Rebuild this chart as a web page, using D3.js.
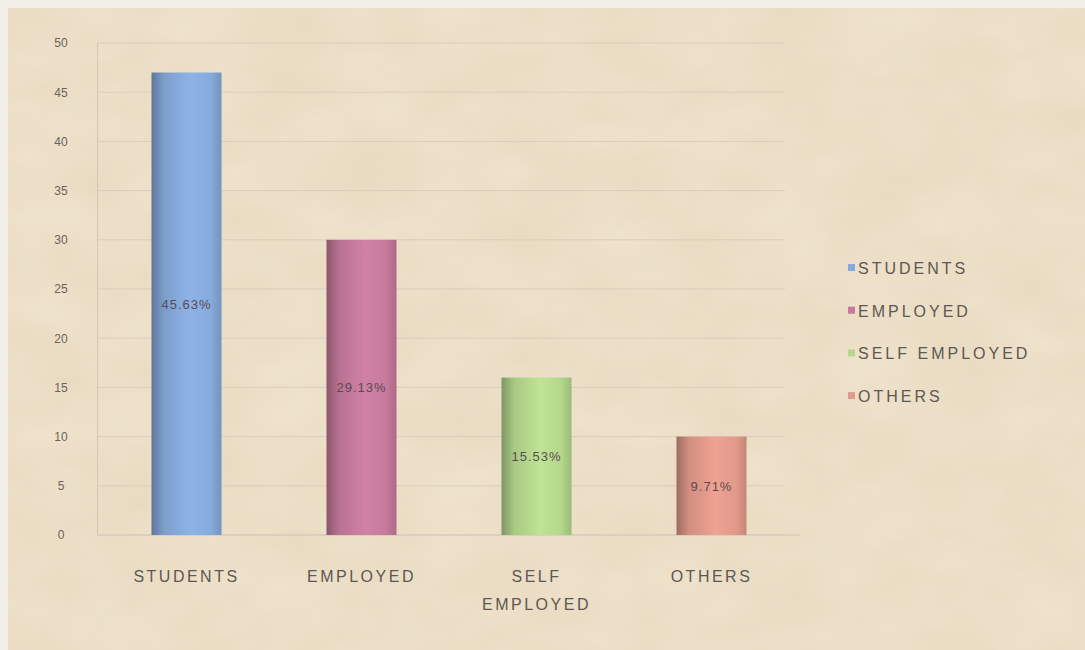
<!DOCTYPE html>
<html>
<head>
<meta charset="utf-8">
<script src="https://cdn.jsdelivr.net/npm/d3@7"></script>
<style>
  html, body { margin: 0; padding: 0; background: #f4f1ee; }
  svg { display: block; }
</style>
</head>
<body>
<svg id="chart" width="1085" height="650"></svg>
<script>
const categories = ["STUDENTS", "EMPLOYED", "SELF EMPLOYED", "OTHERS"];
const axisLabels = [["STUDENTS"], ["EMPLOYED"], ["SELF", "EMPLOYED"], ["OTHERS"]];
const values = [47, 30, 16, 10];
const valueLabels = ["45.63%", "29.13%", "15.53%", "9.71%"];
const yTicks = [0, 5, 10, 15, 20, 25, 30, 35, 40, 45, 50];
const colors = ["#86aadb", "#c77a9c", "#b4d88c", "#e29a8a"];

const svg = d3.select("#chart");
const W = 1085, H = 650;
const FONT = "Liberation Sans, Arial, sans-serif";
const defs = svg.append("defs");

// paper texture
const f = defs.append("filter").attr("id", "paper").attr("x", 0).attr("y", 0).attr("width", "100%").attr("height", "100%");
f.append("feTurbulence").attr("type", "fractalNoise").attr("baseFrequency", "0.012 0.02").attr("numOctaves", 3).attr("seed", 4).attr("result", "n");
f.append("feColorMatrix").attr("in", "n").attr("type", "matrix")
  .attr("values", "0 0 0 0 0.6  0 0 0 0 0.5  0 0 0 0 0.3  0.3 0 0 0 -0.05").attr("result", "c");
f.append("feComposite").attr("in", "c").attr("in2", "SourceGraphic").attr("operator", "atop");

// outer frame
svg.append("rect").attr("x", 0).attr("y", 0).attr("width", W).attr("height", H).attr("fill", "#f3efe9");
svg.append("rect").attr("x", 8).attr("y", 8).attr("width", W - 8).attr("height", H - 8)
  .attr("fill", "#efe2cb").attr("filter", "url(#paper)");

const margin = { left: 97, right: 288, top: 43, bottom: 115 };
const x = d3.scaleBand().domain(categories).range([margin.left, W - margin.right]).paddingInner(0.6).paddingOuter(0.3);
const y = d3.scaleLinear().domain([0, 50]).range([H - margin.bottom, margin.top]);

// gridlines
svg.append("g").selectAll("line").data(yTicks).join("line")
  .attr("x1", margin.left).attr("x2", 785)
  .attr("y1", d => y(d)).attr("y2", d => y(d))
  .attr("stroke", "#d9cdbb").attr("stroke-width", 1);

// y axis
const yAxis = d3.axisLeft(y).tickValues(yTicks).tickSize(0).tickPadding(36);
const gy = svg.append("g").attr("transform", `translate(${margin.left},0)`).call(yAxis);
gy.select(".domain").attr("stroke", "#d3c8b8");
gy.selectAll("text").attr("fill", "#6b6258").attr("font-size", 12).attr("font-family", FONT).attr("text-anchor", "middle");

// x axis line
svg.append("line").attr("x1", margin.left).attr("x2", 800).attr("y1", y(0)).attr("y2", y(0)).attr("stroke", "#d3c8b8");

// bar gradients (cylinder look)
colors.forEach((c, i) => {
  const g = defs.append("linearGradient").attr("id", "g" + i).attr("x1", "0%").attr("x2", "100%");
  const base = d3.color(c);
  g.append("stop").attr("offset", "0%").attr("stop-color", base.darker(1.0));
  g.append("stop").attr("offset", "18%").attr("stop-color", base.darker(0.2));
  g.append("stop").attr("offset", "55%").attr("stop-color", base.brighter(0.15));
  g.append("stop").attr("offset", "85%").attr("stop-color", base);
  g.append("stop").attr("offset", "100%").attr("stop-color", base.darker(0.4));
});

const bw = 70;
svg.append("g").selectAll("rect").data(values).join("rect")
  .attr("x", (d, i) => x(categories[i]) + x.bandwidth() / 2 - bw / 2 + 2)
  .attr("width", bw)
  .attr("y", d => y(d))
  .attr("height", d => y(0) - y(d))
  .attr("fill", (d, i) => `url(#g${i})`);

// value labels
svg.append("g").selectAll("text").data(values).join("text")
  .attr("x", (d, i) => x(categories[i]) + x.bandwidth() / 2 + 2)
  .attr("y", d => (y(d) + y(0)) / 2 + 5)
  .attr("text-anchor", "middle")
  .attr("font-size", 13).attr("font-family", FONT).attr("letter-spacing", 1)
  .attr("fill", "#5a4a55")
  .text((d, i) => valueLabels[i]);

// x labels
const xl = svg.append("g").selectAll("text").data(axisLabels).join("text")
  .attr("x", (d, i) => x(categories[i]) + x.bandwidth() / 2 + 2)
  .attr("y", 582)
  .attr("text-anchor", "middle")
  .attr("font-size", 16).attr("font-family", FONT).attr("letter-spacing", 2.5)
  .attr("fill", "#605850");
xl.selectAll("tspan").data(d => d).join("tspan")
  .attr("x", function () { return d3.select(this.parentNode).attr("x"); })
  .attr("dy", (d, j) => j === 0 ? 0 : 28)
  .text(d => d);

// legend
const lg = svg.append("g").attr("transform", "translate(848,268)");
const li = lg.selectAll("g").data(categories).join("g").attr("transform", (d, i) => `translate(0,${i * 42.7})`);
li.append("rect").attr("x", 0).attr("y", -4).attr("width", 7).attr("height", 7).attr("fill", (d, i) => colors[i]);
li.append("text").attr("x", 10).attr("y", 6)
  .attr("font-size", 16).attr("font-family", FONT).attr("letter-spacing", 3)
  .attr("fill", "#605850").text(d => d);
</script>
</body>
</html>
